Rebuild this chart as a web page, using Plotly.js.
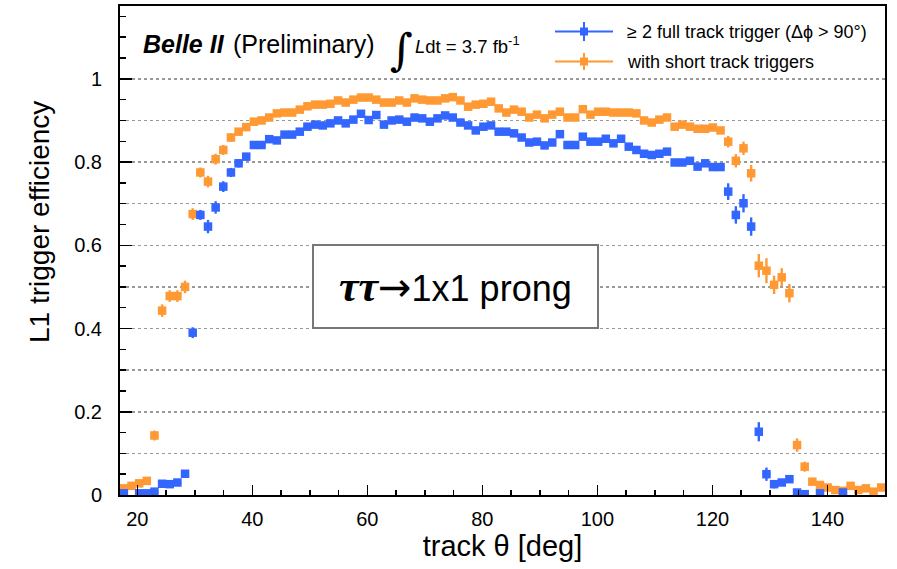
<!DOCTYPE html>
<html>
<head>
<meta charset="utf-8">
<script src="https://cdn.plot.ly/plotly-3.0.1.min.js"></script>
<style>html,body{margin:0;padding:0;background:#fff;}</style>
</head>
<body>
<div id="chart" style="width:897px;height:569px;"></div>
<script>
// bin centres of track theta [deg] (100 bins between 17 and 150 deg)
const thetaCenters = [17.67,19.00,20.33,21.66,22.99,24.32,25.65,26.98,28.31,29.64,
30.97,32.30,33.63,34.96,36.29,37.62,38.95,40.28,41.61,42.94,
44.27,45.60,46.93,48.26,49.59,50.92,52.25,53.58,54.91,56.24,
57.57,58.90,60.23,61.56,62.89,64.22,65.55,66.88,68.21,69.54,
70.87,72.20,73.53,74.86,76.19,77.52,78.85,80.18,81.51,82.84,
84.17,85.50,86.83,88.16,89.49,90.82,92.15,93.48,94.81,96.14,
97.47,98.80,100.13,101.46,102.79,104.12,105.45,106.78,108.11,109.44,
110.77,112.10,113.43,114.76,116.09,117.42,118.75,120.08,121.41,122.74,
124.07,125.40,126.73,128.06,129.39,130.72,132.05,133.38,134.71,136.04,
137.37,138.70,140.03,141.36,142.69,144.02,145.35,146.68,148.01,149.34];
const binHalfWidth = 0.665;

// >= 2 full track trigger (dphi > 90 deg)
const effFull = [0.004,null,0.004,0.004,0.008,0.027,0.026,0.030,0.051,0.390,
0.673,0.645,0.691,0.741,0.775,0.797,0.813,0.841,0.841,0.855,
0.852,0.866,0.866,0.873,0.885,0.890,0.888,0.893,0.900,0.893,
0.902,0.916,0.901,0.913,0.890,0.900,0.902,0.897,0.907,0.905,
0.897,0.905,0.912,0.907,0.895,0.888,0.876,0.885,0.888,0.873,
0.873,0.869,0.859,0.847,0.849,0.840,0.847,0.867,0.841,0.841,
0.861,0.849,0.849,0.856,0.845,0.856,0.837,0.829,0.820,0.817,
0.820,0.825,0.799,0.799,0.803,0.789,0.797,0.788,0.788,0.729,
0.673,0.701,0.645,0.152,0.050,0.026,0.030,0.038,0.006,0.002,
null,0.004,null,null,0.006,null,null,null,null,null];
const errFull = [0.006,0.006,0.006,0.006,0.006,0.006,0.006,0.006,0.006,0.013,
0.012,0.016,0.015,0.013,0.011,0.010,0.009,0.006,0.006,0.006,
0.006,0.006,0.006,0.006,0.006,0.006,0.006,0.006,0.006,0.006,
0.006,0.006,0.006,0.006,0.006,0.006,0.006,0.006,0.006,0.006,
0.006,0.006,0.006,0.006,0.006,0.006,0.006,0.006,0.006,0.006,
0.006,0.006,0.006,0.006,0.006,0.006,0.006,0.006,0.006,0.006,
0.006,0.006,0.006,0.006,0.006,0.006,0.006,0.006,0.006,0.006,
0.006,0.006,0.006,0.006,0.006,0.006,0.006,0.006,0.008,0.020,
0.021,0.022,0.022,0.023,0.016,0.010,0.008,0.008,0.005,0.005,
0.005,0.005,0.005,0.005,0.005,0.005,0.005,0.005,0.005,0.005];

// with short track triggers
const effShort = [0.016,0.022,0.028,0.034,0.143,0.443,0.478,0.478,0.500,0.675,
0.775,0.753,0.807,0.829,0.859,0.873,0.884,0.897,0.900,0.907,
0.917,0.919,0.919,0.926,0.934,0.938,0.938,0.940,0.948,0.943,
0.950,0.955,0.955,0.950,0.943,0.943,0.948,0.943,0.953,0.950,
0.948,0.948,0.953,0.956,0.948,0.933,0.938,0.940,0.945,0.929,
0.919,0.926,0.921,0.907,0.914,0.905,0.914,0.921,0.907,0.907,
0.927,0.914,0.921,0.921,0.919,0.919,0.919,0.917,0.900,0.895,
0.902,0.907,0.885,0.890,0.885,0.880,0.880,0.883,0.876,0.849,
0.803,0.833,0.773,0.551,0.539,0.505,0.523,0.485,0.120,0.068,
0.032,0.024,0.018,0.012,0.010,0.022,0.012,0.016,0.008,0.018];
const errShort = [0.006,0.006,0.006,0.006,0.012,0.015,0.014,0.014,0.015,0.014,
0.012,0.014,0.013,0.012,0.010,0.008,0.008,0.008,0.006,0.006,
0.006,0.006,0.006,0.006,0.006,0.006,0.006,0.006,0.006,0.006,
0.006,0.006,0.006,0.006,0.006,0.006,0.006,0.006,0.006,0.006,
0.006,0.006,0.006,0.006,0.006,0.006,0.006,0.006,0.006,0.006,
0.006,0.006,0.006,0.006,0.006,0.006,0.006,0.006,0.006,0.006,
0.006,0.006,0.006,0.006,0.006,0.006,0.006,0.006,0.006,0.006,
0.006,0.006,0.006,0.006,0.006,0.006,0.006,0.006,0.008,0.014,
0.016,0.016,0.020,0.028,0.030,0.022,0.022,0.022,0.016,0.012,
0.006,0.006,0.006,0.006,0.006,0.006,0.006,0.006,0.006,0.006];

const gridValues = [0.1,0.2,0.3,0.4,0.5,0.6,0.7,0.8,0.9,1.0];
const seriesNames = ['≥ 2 full track trigger (Δϕ > 90°)', 'with short track triggers'];
const BLUE = '#3366ff';
const ORANGE = '#ff9933';
const FONT = 'Liberation Sans, Arial, Helvetica, sans-serif';
const SERIF = 'Liberation Serif, Times New Roman, serif';

function effTrace(y, err, color, name, yaxis) {
  return {
    type: 'scatter', mode: 'markers', name: name,
    x: thetaCenters, y: y, yaxis: yaxis,
    marker: {symbol: 'square', size: 8.5, color: color, line: {width: 0}},
    error_y: {type: 'data', array: err, visible: true, color: color, thickness: 2.4, width: 0},
    error_x: {type: 'constant', value: binHalfWidth, visible: true, color: color, thickness: 2.4, width: 0},
    showlegend: false, cliponaxis: true
  };
}

const traces = [
  effTrace(effShort, errShort, ORANGE, seriesNames[1], 'y'),
  effTrace(effFull, errFull, BLUE, seriesNames[0], 'y2')
];

// helpers: pixel -> paper
const L = 120, T = 6, W = 765, H = 489;
const px = v => (v - L) / W;
const py = v => (T + H - v) / H;

const shapes = [
  {type: 'rect', xref: 'paper', yref: 'paper', x0: px(313), x1: px(598), y0: py(328), y1: py(245),
   line: {color: '#777777', width: 2}, fillcolor: 'rgba(255,255,255,1)', layer: 'above'},
  {type: 'line', xref: 'paper', yref: 'paper', x0: px(555), x1: px(613), y0: py(31.5), y1: py(31.5), line: {color: BLUE, width: 2}},
  {type: 'line', xref: 'paper', yref: 'paper', x0: px(584), x1: px(584), y0: py(22), y1: py(41), line: {color: BLUE, width: 2}},
  {type: 'rect', xref: 'paper', yref: 'paper', x0: px(580), x1: px(588), y0: py(35.5), y1: py(27.5), line: {width: 0}, fillcolor: BLUE},
  {type: 'line', xref: 'paper', yref: 'paper', x0: px(555), x1: px(613), y0: py(61.5), y1: py(61.5), line: {color: ORANGE, width: 2}},
  {type: 'line', xref: 'paper', yref: 'paper', x0: px(584), x1: px(584), y0: py(53), y1: py(70), line: {color: ORANGE, width: 2}},
  {type: 'rect', xref: 'paper', yref: 'paper', x0: px(580), x1: px(588), y0: py(65.5), y1: py(57.5), line: {width: 0}, fillcolor: ORANGE}
];

const annotations = [
  {xref: 'paper', yref: 'paper', x: px(141), y: py(44), xanchor: 'left', yanchor: 'middle', showarrow: false,
   text: '<b><i>Belle II</i></b>', font: {family: FONT, size: 25, color: 'black'}},
  {xref: 'paper', yref: 'paper', x: px(231), y: py(44), xanchor: 'left', yanchor: 'middle', showarrow: false,
   text: '(Preliminary)', font: {family: FONT, size: 25, color: 'black'}},
  {xref: 'paper', yref: 'paper', x: px(401), y: py(50), xanchor: 'center', yanchor: 'middle', showarrow: false,
   text: '∫', font: {family: 'DejaVu Serif, serif', size: 44, color: 'black'}},
  {xref: 'paper', yref: 'paper', x: px(413), y: py(45), xanchor: 'left', yanchor: 'middle', showarrow: false,
   text: '<i>L</i>dt = 3.7 fb<sup>-1</sup>', font: {family: FONT, size: 18.5, color: 'black'}},
  {xref: 'paper', yref: 'paper', x: px(625), y: py(31.5), xanchor: 'left', yanchor: 'middle', showarrow: false,
   text: seriesNames[0], font: {family: FONT, size: 18, color: 'black'}},
  {xref: 'paper', yref: 'paper', x: px(625), y: py(61.5), xanchor: 'left', yanchor: 'middle', showarrow: false,
   text: seriesNames[1], font: {family: FONT, size: 18, color: 'black'}},
  {xref: 'paper', yref: 'paper', x: px(455), y: py(287), xanchor: 'center', yanchor: 'middle', showarrow: false,
   text: '<span style="font-family:' + SERIF + ';font-size:44px"><b><i>ττ</i></b></span><span style="font-family:DejaVu Sans, sans-serif;font-size:40px">→</span>1x1 prong',
   font: {family: FONT, size: 36, color: 'black'}},
  {xref: 'paper', yref: 'paper', x: px(39), y: py(222), xanchor: 'center', yanchor: 'middle', showarrow: false,
   textangle: -90, text: 'L1 trigger efficiency', font: {family: FONT, size: 28, color: 'black'}}
];

const layout = {
  width: 897, height: 569,
  margin: {l: L, r: 897 - L - W, t: T, b: 569 - T - H, pad: 0},
  paper_bgcolor: 'white', plot_bgcolor: 'white',
  showlegend: false,
  font: {family: FONT, color: 'black'},
  xaxis: {
    range: [17, 150], tick0: 0, dtick: 20, ticks: 'inside', ticklen: 10, tickwidth: 1.5, tickcolor: 'black',
    showline: true, linewidth: 2, linecolor: 'black', mirror: true, showgrid: false, zeroline: false,
    tickfont: {family: FONT, size: 20, color: 'black'}, ticklabelstandoff: 5,
    minor: {dtick: 5, ticks: 'inside', ticklen: 5, tickwidth: 1.5, tickcolor: 'black', showgrid: false},
    title: {text: 'track θ [deg]', font: {family: FONT, size: 29, color: 'black'}, standoff: 4}
  },
  yaxis: {
    range: [0, 1.175], tick0: 0, dtick: 0.2, ticks: 'inside', ticklen: 12, tickwidth: 1.5, tickcolor: 'black',
    showline: true, linewidth: 2, linecolor: 'black', mirror: true, showgrid: false, zeroline: false,
    tickfont: {family: FONT, size: 20, color: 'black'}, ticklabelstandoff: 12,
    minor: {dtick: 0.05, ticks: 'inside', ticklen: 6, tickwidth: 1.5, tickcolor: 'black', showgrid: false}
  },
  yaxis2: {
    overlaying: 'y', range: [0, 1.175], tickmode: 'array', tickvals: gridValues, showgrid: true, gridcolor: '#999999',
    griddash: 'dot', gridwidth: 1.5, showticklabels: false, ticks: '', showline: false, zeroline: false
  },
  shapes: shapes,
  annotations: annotations
};

Plotly.newPlot('chart', traces, layout, {displayModeBar: false, staticPlot: true});
</script>
</body>
</html>
